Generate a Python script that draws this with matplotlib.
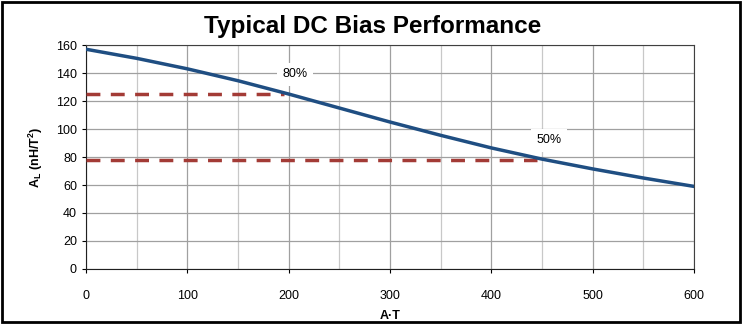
import matplotlib.pyplot as plt
from matplotlib.patches import Rectangle

# curve
at = [0, 50, 100, 150, 200, 250, 300, 350, 400, 450, 500, 550, 600]
al = [157, 150.5, 143, 134.5, 125, 115, 105, 95.5, 86.5, 78.5, 71.5, 65, 59]

# percentage markers: level, end of dashed line, label position
pct_labels = ['80%', '50%']
pct_levels = [125, 78]
pct_ends = [195, 445]
pct_text_x = [206, 457]
pct_text_y = [139, 92]

plt.rcParams['font.family'] = ['Liberation Sans', 'DejaVu Sans']

fig = plt.figure(figsize=(7.42, 3.24), dpi=100)
ax = fig.add_axes([0.1159, 0.1698, 0.8194, 0.6912])

for lvl, end in zip(pct_levels, pct_ends):
    ax.plot([0, end], [lvl, lvl], color='#a33b36', lw=2.5, dashes=(4, 3), zorder=3)
ax.plot(at, al, color='#1f4e82', lw=2.5, zorder=4)

for t, x, y in zip(pct_labels, pct_text_x, pct_text_y):
    ax.text(x, y, t, ha='center', va='center', fontsize=9,
            bbox=dict(facecolor='white', edgecolor='none', pad=4), zorder=5)

ax.set_xlim(0, 600)
ax.set_ylim(0, 160)
ax.set_xticks(range(0, 601, 100))
ax.set_xticks(range(0, 601, 50), minor=True)
ax.set_yticks(range(0, 161, 20))
ax.grid(True, which='major', color='#a0a0a0', lw=0.9)
ax.grid(True, which='minor', axis='x', color='#c8c8c8', lw=0.9)
ax.tick_params(which='minor', length=0)
ax.tick_params(which='major', length=3, labelsize=9, direction='out')
ax.tick_params(axis='x', pad=12)
for s in ax.spines.values():
    s.set_color('#404040')
ax.spines['left'].set_color('#202020')
ax.spines['bottom'].set_color('#202020')

ax.set_xlabel('A·T', fontsize=9, fontweight='bold', labelpad=6)
ax.set_ylabel('A$_\\mathregular{L}$ (nH/T$^\\mathregular{2}$)', fontsize=9, fontweight='bold', labelpad=8)

fig.text(0.502, 0.918, 'Typical DC Bias Performance', ha='center', va='center',
         fontsize=17.5, fontweight='bold', family=['Liberation Sans Narrow', 'Liberation Sans'])

fig.patches.append(Rectangle((0.003, 0.005), 0.994, 0.99, transform=fig.transFigure,
                             fill=False, edgecolor='black', lw=2))

fig.savefig('out.png', dpi=100)
